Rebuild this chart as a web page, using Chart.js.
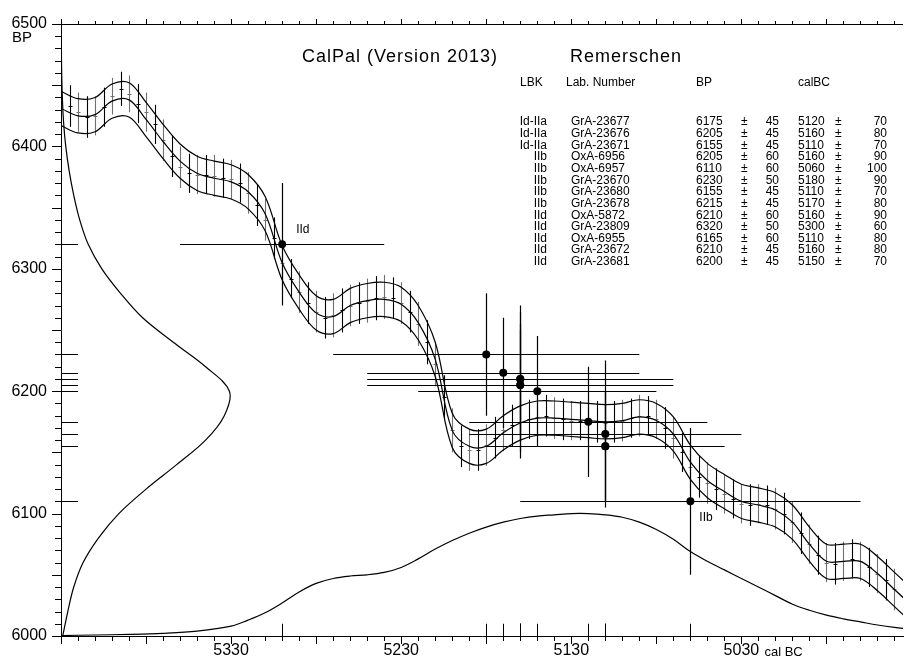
<!DOCTYPE html>
<html>
<head>
<meta charset="utf-8">
<script src="https://cdn.jsdelivr.net/npm/chart.js@4.4.1/dist/chart.umd.min.js"></script>
<style>
    html, body { margin: 0; padding: 0; background: #fff; }
    #wrap { position: relative; width: 908px; height: 664px; }
</style>
</head>
<body>
<div id="wrap"><canvas id="calChart" width="908" height="664"></canvas></div>
<script>
// Remerschen dates (LBK)
const lbk = ['Id-IIa', 'Id-IIa', 'Id-IIa', 'IIb', 'IIb', 'IIb', 'IIb', 'IIb', 'IId', 'IId', 'IId', 'IId', 'IId'];
const labNo = ['GrA-23677', 'GrA-23676', 'GrA-23671', 'OxA-6956', 'OxA-6957', 'GrA-23670', 'GrA-23680', 'GrA-23678', 'OxA-5872', 'GrA-23809', 'OxA-6955', 'GrA-23672', 'GrA-23681'];
const bp = [6175, 6205, 6155, 6205, 6110, 6230, 6155, 6215, 6210, 6320, 6165, 6210, 6200];
const bpErr = [45, 45, 45, 60, 60, 50, 45, 45, 60, 50, 60, 45, 45];
const calBC = [5120, 5160, 5110, 5160, 5060, 5180, 5110, 5170, 5160, 5300, 5110, 5160, 5150];
const calErr = [70, 80, 70, 90, 100, 90, 70, 80, 90, 60, 80, 80, 70];

// calibration curve (smoothed), 10-year steps
const curveCal = [5430, 5420, 5410, 5400, 5390, 5380, 5370, 5360, 5350, 5340, 5330, 5320, 5310, 5300, 5290, 5280, 5270, 5260, 5250, 5240, 5230, 5220, 5210, 5200, 5190, 5180, 5170, 5160, 5150, 5140, 5130, 5120, 5110, 5100, 5090, 5080, 5070, 5060, 5050, 5040, 5030, 5020, 5010, 5000, 4990, 4980, 4970, 4960, 4950, 4940, 4930];
const curveBP = [6431, 6425, 6426, 6437, 6438, 6422, 6404, 6388, 6378, 6374, 6371, 6363, 6345, 6305, 6281, 6264, 6261, 6270, 6274, 6275, 6271, 6256, 6226, 6168, 6155, 6155, 6166, 6174, 6178, 6178, 6177, 6176, 6175, 6176, 6179, 6176, 6165, 6142, 6127, 6118, 6110, 6107, 6103, 6093, 6075, 6061, 6061, 6061, 6051, 6038, 6025];
const curveSigma = [14, 14, 14, 14, 14, 14, 14, 14, 14, 14, 14, 14, 14, 14, 14, 14, 14, 14, 14, 14, 14, 14, 14, 14, 14, 14, 14, 14, 14, 14, 14, 14, 14, 14, 14, 14, 14, 14, 14, 14, 14, 14, 14, 14, 14, 14, 14, 14, 14, 14, 14];

// raw curve data points, 5-year steps
const rawCal = [5425, 5420, 5415, 5410, 5405, 5400, 5395, 5390, 5385, 5380, 5375, 5370, 5365, 5360, 5355, 5350, 5345, 5340, 5335, 5330, 5325, 5320, 5315, 5310, 5305, 5300, 5295, 5290, 5285, 5280, 5275, 5270, 5265, 5260, 5255, 5250, 5245, 5240, 5235, 5230, 5225, 5220, 5215, 5210, 5205, 5200, 5195, 5190, 5185, 5180, 5175, 5170, 5165, 5160, 5155, 5150, 5145, 5140, 5135, 5130, 5125, 5120, 5115, 5110, 5105, 5100, 5095, 5090, 5085, 5080, 5075, 5070, 5065, 5060, 5055, 5050, 5045, 5040, 5035, 5030, 5025, 5020, 5015, 5010, 5005, 5000, 4995, 4990, 4985, 4980, 4975, 4970, 4965, 4960, 4955, 4950, 4945, 4940];
const rawBP = [6433, 6428, 6424, 6425, 6432, 6441, 6447, 6443, 6435, 6428, 6418, 6405, 6392, 6383, 6378, 6377, 6377, 6376, 6374, 6373, 6370, 6362, 6352, 6340, 6325, 6305, 6292, 6281, 6272, 6265, 6260, 6262, 6266, 6270, 6272, 6274, 6276, 6277, 6276, 6272, 6265, 6255, 6240, 6222, 6195, 6168, 6155, 6152, 6152, 6156, 6162, 6168, 6172, 6175, 6177, 6179, 6180, 6178, 6177, 6176, 6176, 6175, 6175, 6174, 6175, 6176, 6178, 6180, 6180, 6177, 6170, 6162, 6150, 6138, 6130, 6125, 6120, 6116, 6112, 6108, 6107, 6108, 6107, 6104, 6100, 6093, 6084, 6075, 6066, 6060, 6059, 6061, 6063, 6061, 6056, 6051, 6046, 6038];
const rawErr = [17, 16, 17, 16, 16, 15, 14, 15, 16, 16, 16, 17, 17, 17, 16, 16, 16, 17, 16, 16, 16, 17, 17, 17, 17, 16, 16, 17, 17, 17, 17, 18, 18, 17, 17, 18, 18, 18, 17, 17, 17, 18, 18, 18, 18, 18, 17, 17, 17, 17, 17, 17, 17, 16, 16, 16, 17, 17, 17, 16, 16, 16, 17, 17, 17, 17, 16, 17, 16, 16, 17, 17, 16, 16, 17, 17, 17, 16, 16, 16, 17, 16, 16, 17, 17, 17, 17, 16, 16, 16, 17, 16, 16, 16, 16, 16, 17, 17];

// summed BP probability (left edge), relative
const sumBP = [6500, 6480, 6460, 6440, 6420, 6400, 6380, 6360, 6340, 6320, 6300, 6280, 6260, 6240, 6220, 6200, 6180, 6160, 6140, 6120, 6100, 6080, 6060, 6040, 6020, 6000];
const sumBPProb = [0.0, 0.002, 0.004, 0.008, 0.015, 0.028, 0.048, 0.075, 0.11, 0.16, 0.24, 0.35, 0.48, 0.66, 0.85, 0.99, 0.96, 0.85, 0.68, 0.5, 0.34, 0.22, 0.13, 0.075, 0.04, 0.01];

// summed calendric probability (bottom edge), relative
const sumCal = [5430, 5410, 5390, 5370, 5350, 5330, 5320, 5310, 5300, 5290, 5280, 5270, 5260, 5250, 5240, 5230, 5220, 5210, 5200, 5190, 5180, 5170, 5160, 5150, 5140, 5130, 5120, 5110, 5100, 5090, 5080, 5070, 5060, 5050, 5040, 5030, 5020, 5010, 5000, 4990, 4980, 4970, 4960, 4950, 4940, 4930];
const sumCalProb = [0.004, 0.008, 0.013, 0.022, 0.04, 0.08, 0.13, 0.19, 0.27, 0.36, 0.43, 0.47, 0.49, 0.5, 0.52, 0.56, 0.63, 0.71, 0.78, 0.84, 0.89, 0.93, 0.96, 0.98, 0.99, 1.0, 1.0, 0.99, 0.97, 0.93, 0.87, 0.79, 0.69, 0.61, 0.54, 0.47, 0.4, 0.33, 0.26, 0.21, 0.17, 0.14, 0.115, 0.09, 0.07, 0.055];

const xMin = 4935;
const xMax = 5430;
const yMin = 6000;
const yMax = 6500;

const FONT = '"Liberation Sans", Arial, Helvetica, sans-serif';

const lineSet = (data, width) => ({
    type: 'scatter',
    data: data,
    showLine: true,
    tension: 0.35,
    borderColor: '#000',
    borderWidth: width,
    pointRadius: 0,
    fill: false
});

const curveMid = curveCal.map((c, i) => ({ x: c, y: curveBP[i] }));
const curveHi = curveCal.map((c, i) => ({ x: c, y: curveBP[i] + curveSigma[i] }));
const curveLo = curveCal.map((c, i) => ({ x: c, y: curveBP[i] - curveSigma[i] }));
// probability curves scaled to 100 units of the opposite axis
const bpDensity = sumBP.map((b, i) => ({ x: xMax - sumBPProb[i] * 100, y: b }));
const calDensity = sumCal.map((c, i) => ({ x: c, y: yMin + sumCalProb[i] * 100 }));

// ticks, error bars, marks along the axes, table
const calpalDecor = {
    id: 'calpalDecor',
    beforeDatasetsDraw(chart) {
        const { ctx, scales: { x, y } } = chart;
        const a = chart.chartArea;
        ctx.save();
        ctx.beginPath();
        ctx.rect(a.left, a.top, a.right - a.left, a.bottom - a.top);
        ctx.clip();

        // raw calibration data with 1 sigma
        rawCal.forEach((c, i) => {
            const px = Math.round(x.getPixelForValue(c)) + 0.5;
            const col = (c % 10 === 5) ? '#000' : '#707070';
            ctx.strokeStyle = col;
            ctx.lineWidth = 1.1;
            ctx.beginPath();
            ctx.moveTo(px, y.getPixelForValue(rawBP[i] + rawErr[i]));
            ctx.lineTo(px, y.getPixelForValue(rawBP[i] - rawErr[i]));
            ctx.stroke();
            const py = Math.round(y.getPixelForValue(rawBP[i])) + 0.5;
            ctx.lineWidth = 1;
            ctx.beginPath();
            ctx.moveTo(px - 2, py);
            ctx.lineTo(px + 2, py);
            ctx.stroke();
        });

        // dates: BP and cal BC 1 sigma ranges
        ctx.strokeStyle = '#000';
        ctx.lineWidth = 1.2;
        bp.forEach((b, i) => {
            const px = Math.round(x.getPixelForValue(calBC[i])) + 0.5;
            const py = Math.round(y.getPixelForValue(b)) + 0.5;
            ctx.beginPath();
            ctx.moveTo(x.getPixelForValue(calBC[i] + calErr[i]), py);
            ctx.lineTo(x.getPixelForValue(calBC[i] - calErr[i]), py);
            ctx.moveTo(px, y.getPixelForValue(b + bpErr[i]));
            ctx.lineTo(px, y.getPixelForValue(b - bpErr[i]));
            ctx.stroke();
        });
        ctx.restore();
    },
    afterDraw(chart) {
        const { ctx, scales: { x, y } } = chart;
        const a = chart.chartArea;
        ctx.save();
        ctx.strokeStyle = '#000';
        ctx.lineWidth = 1;

        // top axis line
        ctx.beginPath();
        ctx.moveTo(a.left, a.top + 0.5);
        ctx.lineTo(a.right, a.top + 0.5);
        ctx.stroke();

        // ticks: every 10 years / 10 BP, longer every 50
        ctx.beginPath();
        for (let v = 4940; v <= xMax; v += 10) {
            const px = Math.round(x.getPixelForValue(v)) + 0.5;
            const major = v % 50 === 30;
            ctx.moveTo(px, a.bottom);
            ctx.lineTo(px, a.bottom + (major ? 8 : 5));
            ctx.moveTo(px, a.top);
            ctx.lineTo(px, a.top - (major ? 5 : 3));
        }
        for (let v = yMin; v <= yMax; v += 10) {
            const py = Math.round(y.getPixelForValue(v)) + 0.5;
            const major = v % 50 === 0;
            ctx.moveTo(a.left, py);
            ctx.lineTo(a.left - (major ? 9 : 6), py);
        }
        ctx.stroke();

        // dates marked on both axes
        ctx.beginPath();
        bp.forEach((b, i) => {
            const py = Math.round(y.getPixelForValue(b)) + 0.5;
            ctx.moveTo(a.left, py);
            ctx.lineTo(x.getPixelForValue(xMax - 10), py);
            const px = Math.round(x.getPixelForValue(calBC[i])) + 0.5;
            ctx.moveTo(px, a.bottom);
            ctx.lineTo(px, y.getPixelForValue(yMin + 10));
        });
        ctx.stroke();

        ctx.fillStyle = '#000';
        ctx.textBaseline = 'middle';
        ctx.textAlign = 'left';

        // axis units
        ctx.font = '15px ' + FONT;
        ctx.fillText('BP', 12, 38);
        ctx.font = '13px ' + FONT;
        ctx.fillText('cal BC', x.getPixelForValue(5030) + 23, 652);

        // phase notes next to single dates
        ctx.font = '12px ' + FONT;
        ctx.fillText(lbk[9], x.getPixelForValue(calBC[9]) + 14, y.getPixelForValue(bp[9]) - 15);
        ctx.fillText(lbk[4], x.getPixelForValue(calBC[4]) + 9, y.getPixelForValue(bp[4]) + 16);

        // title
        ctx.font = '18px ' + FONT;
        ctx.letterSpacing = '1px';
        ctx.fillText('CalPal (Version 2013)', 302, 57);
        ctx.fillText('Remerschen', 570, 57);
        ctx.letterSpacing = '0px';

        // table of dates
        ctx.font = '12px ' + FONT;
        const rowY = (i) => 122 + i * 11.65;
        ctx.fillText('LBK', 520, 83);
        ctx.fillText('Lab. Number', 566, 83);
        ctx.fillText('BP', 696, 83);
        ctx.fillText('calBC', 798, 83);
        bp.forEach((b, i) => {
            const ty = rowY(i);
            ctx.textAlign = 'right';
            ctx.fillText(lbk[i], 547, ty);
            ctx.fillText(String(bpErr[i]), 779, ty);
            ctx.fillText(String(calErr[i]), 887, ty);
            ctx.textAlign = 'left';
            ctx.fillText(labNo[i], 571, ty);
            ctx.fillText(String(b), 696, ty);
            ctx.fillText('±', 741, ty);
            ctx.fillText(String(calBC[i]), 798, ty);
            ctx.fillText('±', 835, ty);
        });
        ctx.restore();
    }
};

const ctx = document.getElementById('calChart').getContext('2d');
const chart = new Chart(ctx, {
    type: 'scatter',
    data: {
        datasets: [
            {
                type: 'scatter',
                data: calBC.map((c, i) => ({ x: c, y: bp[i] })),
                pointRadius: 4,
                pointBackgroundColor: '#000',
                pointBorderWidth: 0,
                showLine: false
            },
            lineSet(curveHi, 1.2),
            lineSet(curveMid, 1.2),
            lineSet(curveLo, 1.2),
            lineSet(bpDensity, 1.2),
            lineSet(calDensity, 1.2)
        ]
    },
    options: {
        responsive: false,
        animation: false,
        devicePixelRatio: 1,
        layout: { padding: { top: 24, right: 0, bottom: 0, left: 0 } },
        plugins: {
            legend: { display: false },
            tooltip: { enabled: false }
        },
        scales: {
            x: {
                type: 'linear',
                reverse: true,
                min: xMin,
                max: xMax,
                grid: { display: false, drawTicks: false },
                border: { display: true, color: '#000', width: 1 },
                ticks: {
                    stepSize: 10,
                    autoSkip: false,
                    maxRotation: 0,
                    padding: 5,
                    color: '#000',
                    font: { family: FONT, size: 16 },
                    callback: (v) => (v % 100 === 30 && v < 5400) ? String(v) : ''
                },
                afterFit: (s) => { s.height = 28; }
            },
            y: {
                type: 'linear',
                min: yMin,
                max: yMax,
                grid: { display: false, drawTicks: false },
                border: { display: true, color: '#000', width: 1 },
                ticks: {
                    stepSize: 10,
                    autoSkip: false,
                    padding: 14,
                    color: '#000',
                    font: { family: FONT, size: 16 },
                    callback: (v) => (v % 100 === 0) ? String(v) : ''
                },
                afterFit: (s) => { s.width = 61; }
            }
        }
    },
    plugins: [calpalDecor]
});
</script>
</body>
</html>
